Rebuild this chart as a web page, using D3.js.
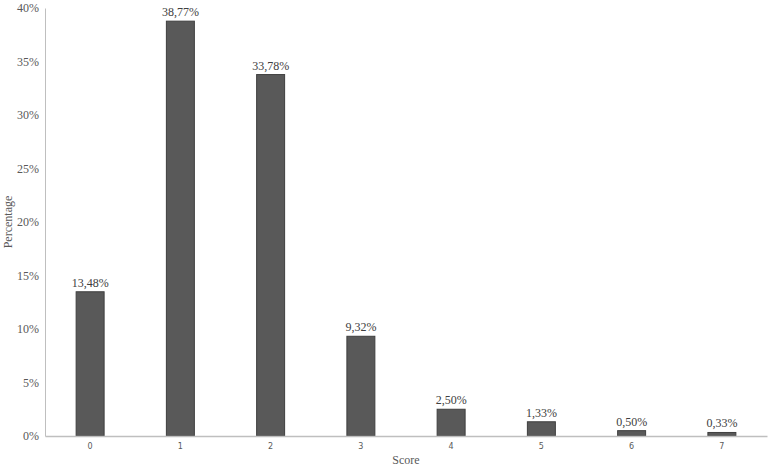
<!DOCTYPE html>
<html><head><meta charset="utf-8">
<script src="https://cdn.jsdelivr.net/npm/d3@7"></script>
<style>body{margin:0;background:#fff} .serif{font-family:"Liberation Serif","DejaVu Serif","Times New Roman",serif}</style>
</head><body><svg id="c" width="772" height="468"></svg>
<script>
const categories = ["0","1","2","3","4","5","6","7"];
const values = [13.48, 38.77, 33.78, 9.32, 2.50, 1.33, 0.50, 0.33];
const yTicks = [0,5,10,15,20,25,30,35,40];
const xTitle = "Score";
const yTitle = "Percentage";

const svg = d3.select("#c");
const m = {l:45, r:5, t:8, b:32};
const W = 772, H = 468;
const x = d3.scaleBand().domain(categories).range([m.l, W-m.r]).paddingInner(0.69).paddingOuter(0.345);
const y = d3.scaleLinear().domain([0,40]).range([H-m.b, m.t]);

const fmt = v => v.toFixed(2).replace(".", ",") + "%";

svg.append("g").selectAll("rect").data(values).join("rect")
  .attr("x",(d,i)=>x(categories[i])).attr("width",x.bandwidth())
  .attr("y",d=>y(d)).attr("height",d=>y(0)-y(d))
  .attr("fill","#595959").attr("stroke","#3f3f3f").attr("stroke-width",1);

svg.append("g").selectAll("text").data(values).join("text")
  .attr("class","serif")
  .attr("x",(d,i)=>x(categories[i])+x.bandwidth()/2).attr("y",d=>y(d)-5)
  .attr("text-anchor","middle").style("font-size","12px")
  .attr("fill","#404040").text(fmt);

const ya = svg.append("g").attr("transform",`translate(${m.l},0)`)
  .call(d3.axisLeft(y).tickValues(yTicks).tickSize(0).tickPadding(6).tickFormat(d=>d+"%"));
ya.attr("font-family",null);
ya.select(".domain").attr("stroke","#bfbfbf");
ya.selectAll("text").attr("class","serif").style("font-size","12px").attr("fill","#595959");

const xa = svg.append("g").attr("transform",`translate(0,${y(0)})`)
  .call(d3.axisBottom(x).tickSize(0).tickPadding(7));
xa.select(".domain").attr("stroke","#bfbfbf").attr("stroke-width",1.5);
xa.selectAll("text").style("font-family","'DejaVu Sans',sans-serif").style("font-size","8px").attr("fill","#595959");

svg.append("text").attr("class","serif").attr("x",(m.l+W-m.r)/2).attr("y",464).attr("text-anchor","middle")
  .style("font-size","12px").attr("fill","#595959").text(xTitle);
svg.append("text").attr("class","serif").attr("transform",`translate(12,${(m.t+H-m.b)/2}) rotate(-90)`).attr("text-anchor","middle")
  .style("font-size","12px").attr("fill","#595959").text(yTitle);
</script></body></html>
